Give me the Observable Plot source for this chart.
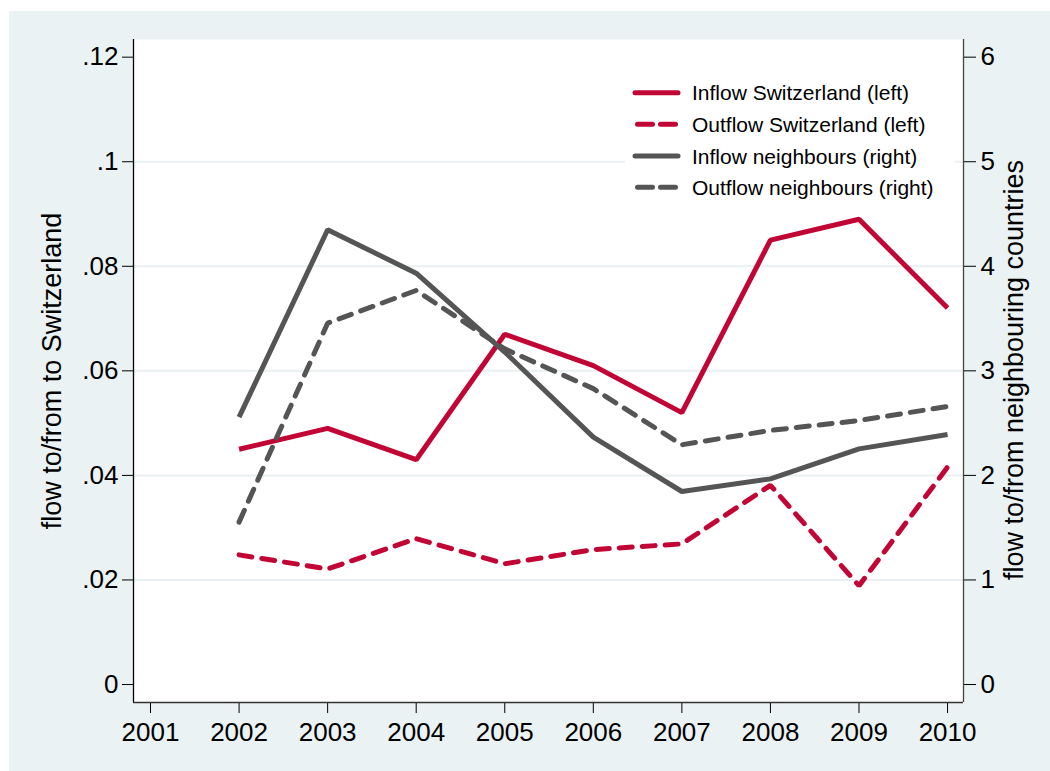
<!DOCTYPE html>
<html><head><meta charset="utf-8">
<script src="https://cdn.jsdelivr.net/npm/d3@7"></script>
<script src="https://cdn.jsdelivr.net/npm/@observablehq/plot@0.6"></script>
<style>
html,body{margin:0;padding:0;background:#fff;}
#chart{position:absolute;left:9px;top:11px;width:1041px;height:760px;background:#EAF2F3;}
#chart svg{display:block;}
</style></head><body><div id="chart"></div>
<script>
// ---- data ----
const years = [2002, 2003, 2004, 2005, 2006, 2007, 2008, 2009, 2010];
const inflowSwitzerland  = [0.045, 0.049, 0.043, 0.067, 0.061, 0.052, 0.085, 0.089, 0.072];
const outflowSwitzerland = [0.0248, 0.0221, 0.0279, 0.0231, 0.0258, 0.0269, 0.0381, 0.0189, 0.0416];
const inflowNeighbours   = [2.557, 4.349, 3.934, 3.18, 2.366, 1.846, 1.967, 2.254, 2.391];
const outflowNeighbours  = [1.553, 3.456, 3.769, 3.21, 2.83, 2.293, 2.43, 2.525, 2.659];
const xTicks = [2001, 2002, 2003, 2004, 2005, 2006, 2007, 2008, 2009, 2010];
const leftTicks = [0, 0.02, 0.04, 0.06, 0.08, 0.10, 0.12];
const gridTicks = [0.02, 0.04, 0.06, 0.08, 0.10];
const rightFactor = 50; // right axis = left axis * 50
const seriesNames = ["Inflow Switzerland (left)", "Outflow Switzerland (left)", "Inflow neighbours (right)", "Outflow neighbours (right)"];
const seriesColors = ["#C10534", "#C10534", "#555555", "#555555"];
const seriesDash = [null, "13,10", null, "13,10"];
const leftTitle = "flow to/from to Switzerland";
const rightTitle = "flow to/from neighbouring countries";

const xDomain = [2000.808, 2010.18];
const yDomain = [-0.00344, 0.12338];

const rows = (vals, k, scale) => years.map((y, i) => ({year: y, v: vals[i] / scale, s: k}));
const dataCHin = rows(inflowSwitzerland, 0, 1);
const dataCHout = rows(outflowSwitzerland, 1, 1);
const dataNBin = rows(inflowNeighbours, 2, rightFactor);
const dataNBout = rows(outflowNeighbours, 3, rightFactor);

const fmtLeft = d => d === 0 ? "0" : String(+d.toFixed(2)).replace(/^0/, "");
const font = "'Liberation Sans', Arial, Helvetica, sans-serif";

const lineOpts = k => ({x: "year", y: "v", stroke: seriesColors[k], strokeWidth: 5,
  strokeDasharray: seriesDash[k] || undefined, strokeLinecap: seriesDash[k] ? "round" : "butt", strokeLinejoin: "miter"});

const plot = Plot.plot({
  width: 1041, height: 760,
  marginLeft: 124, marginRight: 87, marginTop: 28, marginBottom: 69,
  style: {background: "transparent", fontSize: "26px", fontFamily: font, color: "#000"},
  x: {domain: xDomain, axis: null},
  y: {domain: yDomain, axis: null},
  marks: [
    Plot.frame({fill: "white", stroke: null}),
    Plot.gridY(gridTicks, {stroke: "#E8F0F1", strokeOpacity: 1, strokeWidth: 2}),
    Plot.axisX({ticks: xTicks, tickFormat: d => String(d), tickSize: 11, tickPadding: 9, label: null, fontSize: 26, stroke: "#000"}),
    Plot.axisY({anchor: "left", ticks: leftTicks, tickFormat: fmtLeft, tickSize: 11, tickPadding: 4, label: null, fontSize: 26, stroke: "#000"}),
    Plot.axisY({anchor: "right", ticks: leftTicks, tickFormat: d => String(Math.round(d * rightFactor)), tickSize: 12, tickPadding: 5, label: null, fontSize: 26, stroke: "#000"}),
    Plot.ruleX([xDomain[0]], {stroke: "#000", strokeWidth: 1.3}),
    Plot.ruleX([xDomain[1]], {stroke: "#444", strokeWidth: 1.3}),
    Plot.ruleY([yDomain[0]], {stroke: "#333", strokeWidth: 1.3}),
    Plot.line(dataCHin, lineOpts(0)),
    Plot.line(dataNBin, lineOpts(2)),
    Plot.line(dataNBout, lineOpts(3)),
    Plot.line(dataCHout, lineOpts(1))
  ]
});
document.getElementById("chart").appendChild(plot);

// ---- titles and legend (svg coords: page - (9,11)) ----
const svg = d3.select(plot);
svg.append("text").attr("transform", "translate(52,360) rotate(-90)")
  .attr("text-anchor", "middle").attr("font-family", font).attr("font-size", 27).attr("fill", "#000")
  .text(leftTitle);
svg.append("text").attr("transform", "translate(1014,359) rotate(-90)")
  .attr("text-anchor", "middle").attr("font-family", font).attr("font-size", 27).attr("fill", "#000")
  .text(rightTitle);

const lg = svg.append("g").attr("text-anchor", "start");
lg.append("rect").attr("x", 616).attr("y", 60).attr("width", 330).attr("height", 134).attr("fill", "white");
const rowY = [81.7, 113.3, 145, 176.3];
seriesNames.forEach((name, k) => {
  lg.append("line").attr("x1", seriesDash[k] ? 628.5 : 626).attr("x2", seriesDash[k] ? 666.5 : 669)
    .attr("y1", rowY[k]).attr("y2", rowY[k])
    .attr("stroke", seriesColors[k]).attr("stroke-width", 5)
    .attr("stroke-linecap", "round")
    .attr("stroke-dasharray", seriesDash[k] ? "15,8" : null);
  lg.append("text").attr("x", 683).attr("y", rowY[k]).attr("dy", "0.36em")
    .attr("text-anchor", "start")
    .attr("font-family", font).attr("font-size", 21).attr("fill", "#000").text(name);
});
</script>
</body></html>
